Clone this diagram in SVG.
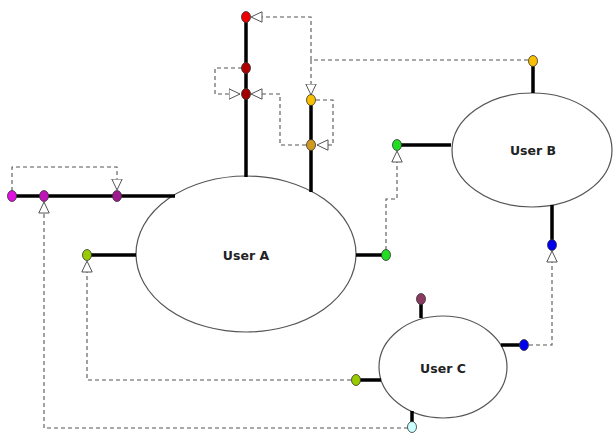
<svg xmlns="http://www.w3.org/2000/svg" width="613" height="435" viewBox="0 0 613 435">
  <style>
    .user { fill: #fff; stroke: #555; stroke-width: 1.2; }
    .label { font-family: "DejaVu Sans", "Open Sans", sans-serif; font-weight: bold; font-size: 12.5px; fill: #222; text-anchor: middle; dominant-baseline: central; }
    .stem { stroke: #000; stroke-width: 3.5; fill: none; }
    .port { stroke: #333; stroke-width: 0.8; }
    .link { fill: none; stroke: #555; stroke-width: 1.1; stroke-dasharray: 4 3; marker-end: url(#open); }
    .plain { fill: none; stroke: #555; stroke-width: 1.1; stroke-dasharray: 4 3; }
  </style>
  <defs>
    <marker id="open" viewBox="0 0 12 12" refX="11.5" refY="6" markerWidth="12" markerHeight="12" markerUnits="userSpaceOnUse" orient="auto">
      <path d="M0.5,0.8 L11.5,6 L0.5,11.2 Z" fill="#fff" stroke="#555" stroke-width="1"/>
    </marker>
  </defs>
  <rect width="613" height="435" fill="#fff"/>

  <!-- dashed links between ports -->
  <g id="connectors">
    <path class="link" d="M528,60 H311 V17 H251"/>
    <path class="link" d="M311,60 V95"/>
    <path class="link" d="M242,68 H215 V94 H240"/>
    <path class="link" d="M306,145 H280 V94 H251"/>
    <path class="link" d="M316,100 H333 V145 H317"/>
    <path class="link" d="M12,191 V167 H117 V190"/>
    <path class="link" d="M408,428 H44 V202"/>
    <path class="link" d="M351,380 H87 V261"/>
    <path class="link" d="M386,250 V199 H397 V151"/>
    <path class="link" d="M529,345 H552 V251"/>
  </g>

  <g id="user-a">
    <ellipse class="user" cx="246" cy="254" rx="110" ry="78"/>
    <text class="label" x="246" y="255">User A</text>
    <path class="stem" d="M246,18 V177"/>
    <path class="stem" d="M311,101 V192"/>
    <path class="stem" d="M12,196 H175"/>
    <path class="stem" d="M88,255 H136"/>
    <path class="stem" d="M356,255 H384"/>
    <ellipse class="port" cx="246" cy="17" rx="4.5" ry="5.5" fill="#ee0000"/>
    <ellipse class="port" cx="246" cy="68" rx="4.5" ry="5.5" fill="#b00000"/>
    <ellipse class="port" cx="246" cy="94" rx="4.5" ry="5.5" fill="#a00000"/>
    <ellipse class="port" cx="311" cy="100" rx="4.5" ry="5.5" fill="#f8c000"/>
    <ellipse class="port" cx="311" cy="145" rx="4.5" ry="5.5" fill="#d09a20"/>
    <ellipse class="port" cx="12" cy="196" rx="4.5" ry="5.5" fill="#e010e0"/>
    <ellipse class="port" cx="44" cy="196" rx="4.5" ry="5.5" fill="#c014b8"/>
    <ellipse class="port" cx="117" cy="196" rx="4.5" ry="5.5" fill="#a01890"/>
    <ellipse class="port" cx="87" cy="255" rx="4.5" ry="5.5" fill="#99cc00"/>
    <ellipse class="port" cx="386" cy="255" rx="4.5" ry="5.5" fill="#22dd22"/>
  </g>

  <g id="user-b">
    <ellipse class="user" cx="532" cy="150" rx="80" ry="57"/>
    <text class="label" x="533" y="150">User B</text>
    <path class="stem" d="M533,62 V93"/>
    <path class="stem" d="M398,145 H451"/>
    <path class="stem" d="M552,205 V243"/>
    <ellipse class="port" cx="533" cy="61" rx="4.5" ry="5.5" fill="#f8c000"/>
    <ellipse class="port" cx="397" cy="145" rx="4.5" ry="5.5" fill="#22dd22"/>
    <ellipse class="port" cx="552" cy="245" rx="4.5" ry="5.5" fill="#0000ee"/>
  </g>

  <g id="user-c">
    <ellipse class="user" cx="443" cy="367" rx="64" ry="51"/>
    <text class="label" x="443" y="368">User C</text>
    <path class="stem" d="M421,300 V318"/>
    <path class="stem" d="M357,380 H381"/>
    <path class="stem" d="M501,345 H523"/>
    <path class="stem" d="M412,411 V426"/>
    <ellipse class="port" cx="421" cy="299" rx="4.5" ry="5.5" fill="#8b3a62"/>
    <ellipse class="port" cx="356" cy="380" rx="4.5" ry="5.5" fill="#99cc00"/>
    <ellipse class="port" cx="524" cy="345" rx="4.5" ry="5.5" fill="#0000ee"/>
    <ellipse class="port" cx="412" cy="427" rx="4.5" ry="5.5" fill="#ccffff"/>
  </g>
</svg>
